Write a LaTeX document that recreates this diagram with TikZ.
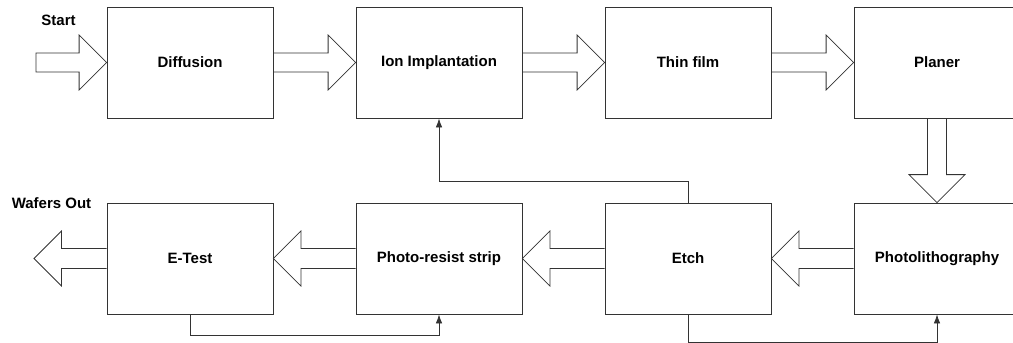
\documentclass[tikz,border=0pt]{standalone}
\usepackage{fontspec}
\setmainfont{Liberation Sans}
\usetikzlibrary{arrows.meta,calc}
\begin{document}
\begin{tikzpicture}[x=1pt,y=-1pt,
  proc/.style={draw=black!80,line width=0.8pt,minimum width=166pt,minimum height=111pt,inner sep=0pt,
    font=\fontsize{15}{18}\selectfont\bfseries},
  lbl/.style={font=\fontsize{15}{18}\selectfont\bfseries,inner sep=0pt},
  blk/.style={draw=black!80,line width=0.8pt,line join=miter},
  fb/.style={draw=black!80,line width=0.8pt,-{Latex[length=9pt,width=6.5pt]}}]
\useasboundingbox (0,0) rectangle (1013,343);
\node[proc] (dif) at (190,62.5) {Diffusion};
\node[proc] (ion) at (439,62.5) {Ion Implantation};
\node[proc] (thin) at (688,62.5) {Thin film};
\node[proc] (plan) at (937,62.5) {Planer};
\node[proc] (etest) at (190,258.5) {E-Test};
\node[proc] (prs) at (439,258.5) {Photo-resist strip};
\node[proc] (etch) at (688,258.5) {Etch};
\node[proc] (pl) at (937,258.5) {Photolithography};
\node[lbl] (start) at (58.5,20) {Start};
\node[lbl] (wout) at (51.5,203) {Wafers Out};
\coordinate (sin) at (36,62.5);
\coordinate (wtip) at (34,258.5);
% start arrow
\draw[blk] (sin) ++(0,-9.5) -- ($(dif.west)+(-27.5,-9.5)$) -- ($(dif.west)+(-27.5,-27.5)$) -- (dif.west)
  -- ($(dif.west)+(-27.5,27.5)$) -- ($(dif.west)+(-27.5,9.5)$) -- ($(sin)+(0,9.5)$) -- cycle;
% horizontal right arrows
\foreach \a/\b in {dif/ion,ion/thin,thin/plan}{
  \draw[blk] ($(\a.east)+(0,-9.5)$) -- ($(\b.west)+(-27.5,-9.5)$) -- ($(\b.west)+(-27.5,-27.5)$) -- (\b.west)
    -- ($(\b.west)+(-27.5,27.5)$) -- ($(\b.west)+(-27.5,9.5)$) -- ($(\a.east)+(0,9.5)$);
}
% down arrow
\draw[blk] ($(plan.south)+(-9.5,0)$) -- ($(pl.north)+(-9.5,-28)$) -- ($(pl.north)+(-28,-28)$) -- (pl.north)
  -- ($(pl.north)+(28,-28)$) -- ($(pl.north)+(9.5,-28)$) -- ($(plan.south)+(9.5,0)$);
% left arrows
\foreach \a/\b in {pl/etch,etch/prs,prs/etest}{
  \draw[blk] ($(\a.west)+(0,-10)$) -- ($(\b.east)+(27.5,-10)$) -- ($(\b.east)+(27.5,-27.5)$) -- (\b.east)
    -- ($(\b.east)+(27.5,27.5)$) -- ($(\b.east)+(27.5,10)$) -- ($(\a.west)+(0,10)$);
}
% wafers out arrow
\draw[blk] ($(etest.west)+(0,-10)$) -- ($(wtip)+(27.5,-10)$) -- ($(wtip)+(27.5,-27.5)$) -- (wtip)
  -- ($(wtip)+(27.5,27.5)$) -- ($(wtip)+(27.5,10)$) -- ($(etest.west)+(0,10)$);
% feedback lines
\draw[fb] (etch.north) -- ++(0,-21) -| (ion.south);
\draw[fb] (etch.south) -- ++(0,27.5) -| (pl.south);
\draw[fb] (etest.south) -- ++(0,21) -| (prs.south);
\end{tikzpicture}
\end{document}
